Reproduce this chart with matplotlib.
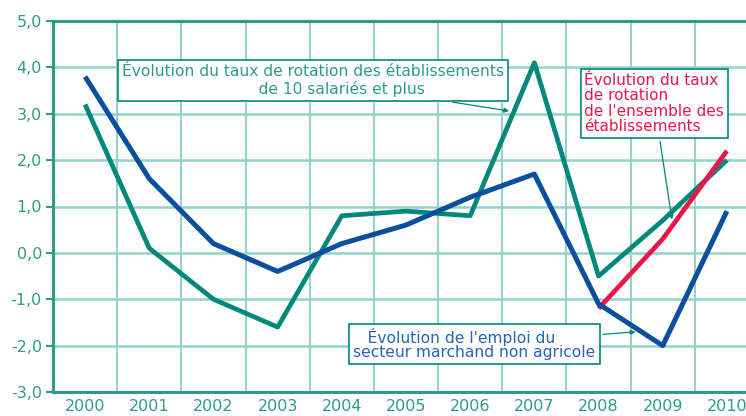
import numpy as np
import matplotlib.pyplot as plt

years = ['2000', '2001', '2002', '2003', '2004', '2005', '2006', '2007', '2008', '2009', '2010']
emploi = [3.8, 1.6, 0.2, -0.4, 0.2, 0.6, 1.2, 1.7, -1.1, -2.0, 0.9]
rotation_10 = [3.2, 0.1, -1.0, -1.6, 0.8, 0.9, 0.8, 4.1, -0.5, 0.7, 2.0]
rotation_all = [-1.2, 0.3, 2.2]
yticks = [-3, -2, -1, 0, 1, 2, 3, 4, 5]

teal = '#2e9c8a'
grid_c = '#93d2c7'
blue = '#0a4f9e'
green = '#00897a'
red = '#e8174a'

fig = plt.figure(figsize=(7.46, 4.16), dpi=100)
ax = fig.add_axes([53/746, 24/416, 706/746, 371/416])

x = np.arange(len(years))
ax.plot(x, rotation_10, color=green, lw=3.4, solid_capstyle='butt', zorder=3)
ax.plot(x[8:], rotation_all, color=red, lw=3.4, solid_capstyle='butt', zorder=4)
ax.plot(x, emploi, color=blue, lw=3.6, solid_capstyle='butt', zorder=5)

ax.set_xlim(-0.5, 10.5)
ax.set_ylim(-3, 5)
ax.set_yticks(yticks)
ax.set_yticklabels(['%d,0' % v for v in yticks])
ax.set_xticks(x)
ax.set_xticklabels(years)
ax.set_xticks(x[:-1] + 0.5, minor=True)
ax.tick_params(axis='x', which='both', length=0, labelsize=11.5, colors=teal, pad=5)
ax.tick_params(axis='y', length=5, width=1.5, color=teal, labelsize=11.5, labelcolor=teal, pad=3)
ax.grid(axis='y', color=grid_c, lw=1.8, zorder=1)
ax.grid(axis='x', which='minor', color=grid_c, lw=1.4, zorder=1)

for s in ['left', 'bottom', 'top']:
    ax.spines[s].set_color(teal)
    ax.spines[s].set_linewidth(2.2)
ax.spines['right'].set_visible(False)

box = dict(boxstyle='square,pad=0.25', fc='white', ec=green, lw=1.2)
arr = dict(arrowstyle='-|>', color=green, lw=0.9, mutation_scale=7)

ax.annotate("Évolution du taux de rotation des établissements\n"
            + " " * 28 + "de 10 salariés et plus",
            xy=(6.65, 3.05), xytext=(0.58, 3.72), color=teal, fontsize=11.2,
            va='center', ha='left', bbox=box, arrowprops=arr, zorder=6,
            linespacing=1.2)

ax.annotate("Évolution du taux\nde rotation\nde l'ensemble des\nétablissements",
            xy=(9.15, 0.66), xytext=(7.78, 3.22), color=red, fontsize=11,
            va='center', ha='left', bbox=box, arrowprops=arr, zorder=6,
            linespacing=1.05)

ax.annotate("   Évolution de l'emploi du\nsecteur marchand non agricole",
            xy=(8.62, -1.7), xytext=(4.18, -1.96), color='#2b63b5', fontsize=11.2,
            va='center', ha='left', bbox=box, arrowprops=arr, zorder=6,
            linespacing=0.95)

plt.savefig('out.png', dpi=100)
